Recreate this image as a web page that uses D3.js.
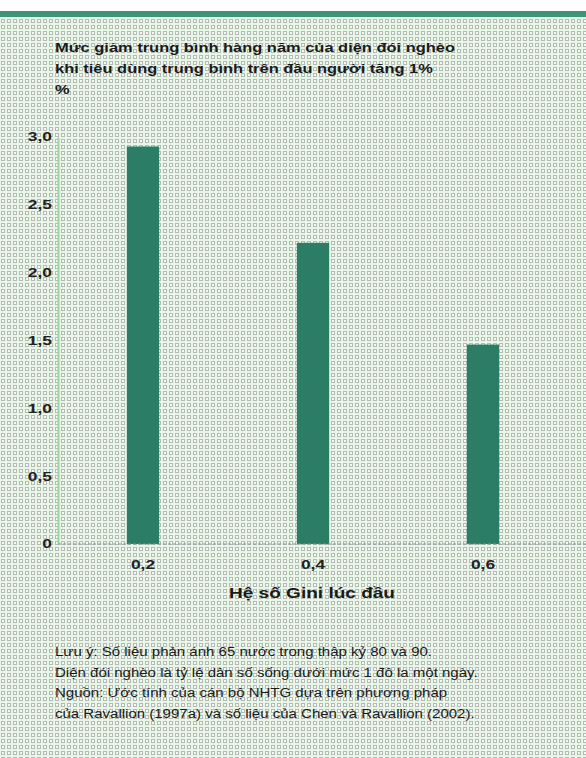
<!DOCTYPE html>
<html>
<head>
<meta charset="utf-8">
<script src="https://cdn.jsdelivr.net/npm/d3@7"></script>
<style>
  body { margin: 0; background: #fff; }
  svg { display: block; font-family: "Liberation Sans", Arial, sans-serif; }
</style>
</head>
<body>
<div id="root"></div>
<script>
const width = 586;
const height = 758;

// Data

const categories = ['0,2', '0,4', '0,6'];
const values = [2.93, 2.22, 1.47];
const yTicks = [0, 0.5, 1, 1.5, 2, 2.5, 3];

const titleLines = [
  'Mức giảm trung bình hàng năm của diện đói nghèo',
  'khi tiêu dùng trung bình trên đầu người tăng 1%',
  '%',
];
const xTitle = 'Hệ số Gini lúc đầu';
const notes = [
  'Lưu ý: Số liệu phản ánh 65 nước trong thập kỷ 80 và 90.',
  'Diện đói nghèo là tỷ lệ dân số sống dưới mức 1 đô la một ngày.',
  'Nguồn: Ước tính của cán bộ NHTG dựa trên phương pháp',
  'của Ravallion (1997a) và số liệu của Chen và Ravallion (2002).',
];

// Stretch text horizontally (the original type is wide)
function stretch(sel, factor) {
  sel.each(function () {
    const w = this.getComputedTextLength();
    d3.select(this)
      .attr('textLength', w * factor)
      .attr('lengthAdjust', 'spacingAndGlyphs');
  });
}

// Canvas

const svg = d3
  .select('#root')
  .append('svg')
  .attr('width', width)
  .attr('height', height);

// Dotted background pattern

const defs = svg.append('defs');
const bg = defs
  .append('pattern')
  .attr('id', 'dots')
  .attr('width', 6)
  .attr('height', 6)
  .attr('patternUnits', 'userSpaceOnUse');
bg.append('rect').attr('width', 6).attr('height', 6).attr('fill', '#e6f7e6');
bg.append('rect')
  .attr('x', 1.5)
  .attr('y', 1.5)
  .attr('width', 3)
  .attr('height', 3)
  .attr('fill', '#f4faf4')
  .attr('stroke', '#b8b8b8')
  .attr('stroke-width', 1);

svg
  .append('rect')
  .attr('y', 17)
  .attr('width', width)
  .attr('height', height - 17)
  .attr('fill', 'url(#dots)');

// Top band
svg
  .append('rect')
  .attr('y', 11)
  .attr('width', width)
  .attr('height', 6)
  .attr('fill', '#3f9377');

// Title

const title = svg
  .append('g')
  .selectAll('text')
  .data(titleLines)
  .join('text')
  .attr('x', 55)
  .attr('y', (d, i) => 52 + 21 * i)
  .attr('font-size', 13)
  .attr('font-weight', 'bold')
  .attr('fill', '#1a1a1a')
  .text((d) => d);
stretch(title, 400 / title.node().getComputedTextLength());

// Scales

const x = d3.scaleBand().domain(categories).range([58, 568]).paddingInner(0.81).paddingOuter(0.405);
const y = d3.scaleLinear().domain([0, 3]).range([544, 137]);

// Bars

svg
  .append('g')
  .selectAll('rect')
  .data(values)
  .join('rect')
  .attr('x', (d, i) => x(categories[i]))
  .attr('y', (d) => y(d))
  .attr('width', x.bandwidth())
  .attr('height', (d) => y(0) - y(d))
  .attr('fill', '#2b7d66');

// Y axis

const yAxis = svg
  .append('g')
  .attr('transform', 'translate(58,0)')
  .call(
    d3
      .axisLeft(y)
      .tickValues(yTicks)
      .tickSize(0)
      .tickPadding(6)
      .tickFormat((d) => (d === 0 ? '0' : d3.format('.1f')(d).replace('.', ',')))
  );
yAxis.select('.domain').attr('stroke', '#9fd3a8').attr('stroke-width', 2);
yAxis
  .selectAll('text')
  .attr('font-size', 12)
  .attr('font-weight', 'bold')
  .attr('fill', '#222')
  .attr('font-family', '"Liberation Sans", Arial, sans-serif')
  .call(stretch, 1.45);

// X axis

const xAxis = svg
  .append('g')
  .attr('transform', 'translate(0,544)')
  .call(d3.axisBottom(x).tickSize(0).tickPadding(16));
xAxis.select('.domain').remove();
xAxis
  .selectAll('text')
  .attr('font-size', 12)
  .attr('font-weight', 'bold')
  .attr('fill', '#222')
  .attr('font-family', '"Liberation Sans", Arial, sans-serif')
  .call(stretch, 1.45);

svg
  .append('line')
  .attr('x1', 58)
  .attr('x2', width)
  .attr('y1', 544)
  .attr('y2', 544)
  .attr('stroke', '#8a8fa0')
  .attr('stroke-dasharray', '3,2');

const xt = svg
  .append('text')
  .attr('x', 312)
  .attr('y', 598)
  .attr('text-anchor', 'middle')
  .attr('font-size', 14)
  .attr('font-weight', 'bold')
  .attr('fill', '#1a1a1a')
  .text(xTitle);
stretch(xt, 166 / xt.node().getComputedTextLength());

// Notes

const note = svg
  .append('g')
  .selectAll('text')
  .data(notes)
  .join('text')
  .attr('x', 55)
  .attr('y', (d, i) => 656 + 20.7 * i)
  .attr('font-size', 12.5)
  .attr('fill', '#1a1a1a')
  .text((d) => d);
stretch(note, 377 / note.node().getComputedTextLength());
</script>
</body>
</html>
